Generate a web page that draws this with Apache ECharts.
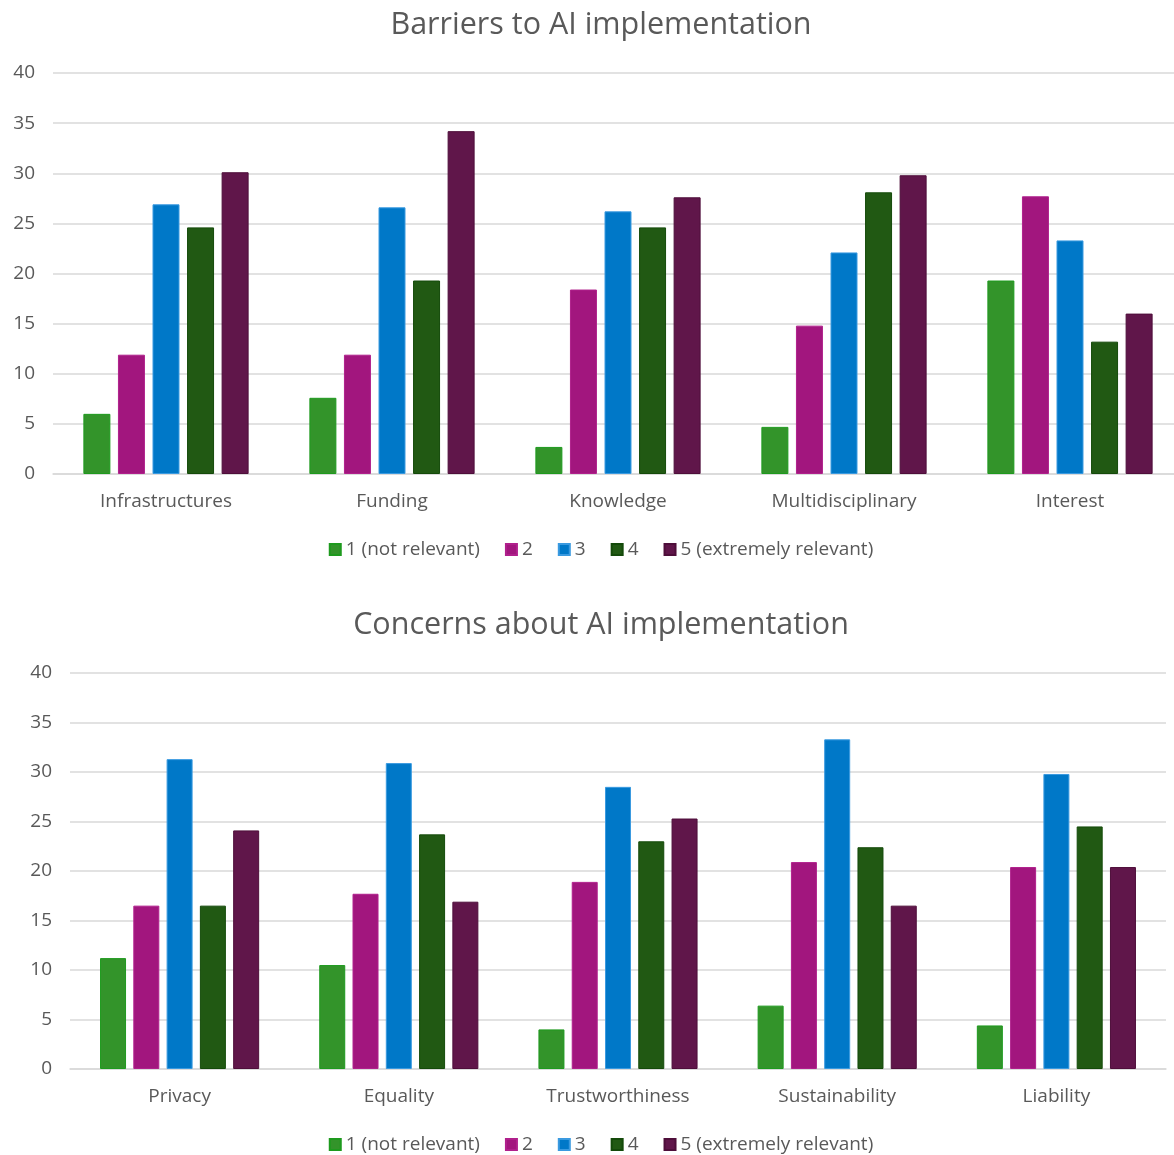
<!DOCTYPE html>
<html><head><meta charset="utf-8">
<script src="https://cdn.jsdelivr.net/npm/echarts@6/dist/echarts.min.js"></script>
<style>html,body{margin:0;padding:0;background:#fff;overflow:hidden}#c{width:1202px;height:1155px}</style>
</head><body><div id="c"></div>
<script>
const seriesNames = ['1 (not relevant)', '2', '3', '4', '5 (extremely relevant)'];
const colors = ['#33942A', '#A2167E', '#0078C8', '#215913', '#60164A'];
const borderColors = ['#1E9A1E', '#B0208C', '#3A9AE0', '#144A0A', '#4E0E3A'];

const barrierCats = ['Infrastructures', 'Funding', 'Knowledge', 'Multidisciplinary', 'Interest'];
const barrier1 = [6.0, 7.6, 2.7, 4.7, 19.3];
const barrier2 = [11.9, 11.9, 18.4, 14.8, 27.7];
const barrier3 = [26.9, 26.6, 26.2, 22.1, 23.3];
const barrier4 = [24.6, 19.3, 24.6, 28.1, 13.2];
const barrier5 = [30.1, 34.2, 27.6, 29.8, 16.0];

const concernCats = ['Privacy', 'Equality', 'Trustworthiness', 'Sustainability', 'Liability'];
const concern1 = [11.2, 10.5, 4.0, 6.4, 4.4];
const concern2 = [16.5, 17.7, 18.9, 20.9, 20.4];
const concern3 = [31.3, 30.9, 28.5, 33.3, 29.8];
const concern4 = [16.5, 23.7, 23.0, 22.4, 24.5];
const concern5 = [24.1, 16.9, 25.3, 16.5, 20.4];

const yTicks = [0, 5, 10, 15, 20, 25, 30, 35, 40];

const FONT = 'Open Sans';
const TXT = '#595959';
const barrierData = [barrier1, barrier2, barrier3, barrier4, barrier5];
const concernData = [concern1, concern2, concern3, concern4, concern5];

function mkSeries(dataArr, idx, bw) {
  return dataArr.map((d, i) => ({
    name: seriesNames[i], type: 'bar', xAxisIndex: idx, yAxisIndex: idx,
    data: d, barWidth: bw, barGap: '28%',
    itemStyle: { color: colors[i], borderColor: borderColors[i], borderWidth: 1 },
    emphasis: { disabled: true }, silent: true
  }));
}
function xAx(cats, idx) {
  return { type: 'category', gridIndex: idx, data: cats,
    axisTick: { show: false },
    axisLine: { lineStyle: { color: '#d9d9d9', width: 1.5 } },
    axisLabel: { color: TXT, fontFamily: FONT, fontSize: 19, margin: 18 } };
}
function yAx(idx) {
  return { type: 'value', gridIndex: idx, min: yTicks[0], max: yTicks[yTicks.length - 1], interval: 5,
    axisLine: { show: false }, axisTick: { show: false },
    splitLine: { lineStyle: { color: '#d9d9d9', width: 1.5 } },
    axisLabel: { color: TXT, fontFamily: FONT, fontSize: 19, margin: 18 } };
}
function legend(top) {
  return { top: top, left: 'center', data: seriesNames, itemWidth: 11, itemHeight: 11, itemGap: 25,
    icon: 'rect', selectedMode: false,
    textStyle: { color: TXT, fontFamily: FONT, fontSize: 19 } };
}

const chart = echarts.init(document.getElementById('c'), null, { renderer: 'canvas' });
chart.setOption({
  animation: false,
  backgroundColor: '#fff',
  title: [
    { text: 'Barriers to AI implementation', left: 'center', top: 5,
      textStyle: { color: TXT, fontFamily: FONT, fontSize: 30.5, fontWeight: 'normal' } },
    { text: 'Concerns about AI implementation', left: 'center', top: 605,
      textStyle: { color: TXT, fontFamily: FONT, fontSize: 30.5, fontWeight: 'normal' } }
  ],
  legend: [legend(535), legend(1130)],
  grid: [
    { left: 53, right: 19, top: 73, height: 401 },
    { left: 70, right: 36, top: 673, height: 396 }
  ],
  xAxis: [xAx(barrierCats, 0), xAx(concernCats, 1)],
  yAxis: [yAx(0), yAx(1)],
  series: [...mkSeries(barrierData, 0, 27), ...mkSeries(concernData, 1, 26)]
});
</script></body></html>
